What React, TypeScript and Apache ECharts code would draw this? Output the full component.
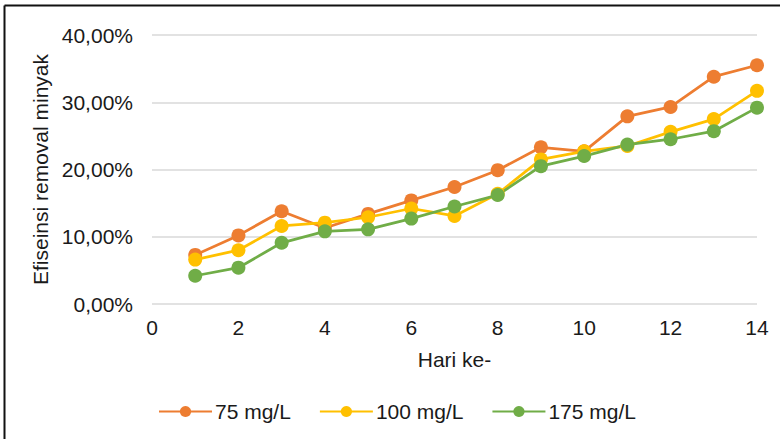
import React, { useEffect, useRef } from "react";
import * as echarts from "echarts";

const days = [1, 2, 3, 4, 5, 6, 7, 8, 9, 10, 11, 12, 13, 14];
const s75 = [7.3, 10.2, 13.8, 11.3, 13.4, 15.4, 17.4, 19.9, 23.3, 22.7, 27.9, 29.3, 33.8, 35.5];
const s100 = [6.6, 8.0, 11.6, 12.1, 12.9, 14.2, 13.1, 16.4, 21.5, 22.7, 23.5, 25.6, 27.5, 31.7];
const s175 = [4.2, 5.4, 9.1, 10.8, 11.1, 12.7, 14.5, 16.2, 20.5, 22.0, 23.7, 24.5, 25.7, 29.2];
const seriesNames = ["75 mg/L", "100 mg/L", "175 mg/L"];
const seriesColors = ["#ED7D31", "#FFC000", "#70AD47"];

const FONT = "'Liberation Sans', Arial, sans-serif";
const TEXT = "#1a1a1a";
const FS = 21;

export default function App() {
  const ref = useRef<HTMLDivElement>(null);
  useEffect(() => {
    if (!ref.current) return;
    const chart = echarts.init(ref.current, undefined, { renderer: "svg" });
    const all = [s75, s100, s175];
    chart.setOption({
      animation: false,
      backgroundColor: "#ffffff",
      textStyle: { fontFamily: FONT },
      grid: { left: 152, right: 23, top: 35, bottom: 135 },
      legend: {
        left: 153,
        top: 396,
        itemWidth: 53,
        itemHeight: 14,
        itemGap: 28,
        textStyle: { fontFamily: FONT, fontSize: FS, color: TEXT, padding: [0, 0, 0, -2] },
        data: seriesNames,
      },
      xAxis: {
        type: "value",
        min: 0,
        max: 14,
        interval: 2,
        name: "Hari ke-",
        nameLocation: "middle",
        nameGap: 45,
        nameTextStyle: { fontFamily: FONT, fontSize: FS, color: TEXT },
        axisLine: { show: false },
        axisTick: { show: false },
        splitLine: { show: false },
        axisLabel: { fontFamily: FONT, fontSize: FS, color: TEXT, margin: 13 },
      },
      yAxis: {
        type: "value",
        min: 0,
        max: 40,
        interval: 10,
        name: "Efiseinsi removal minyak",
        nameLocation: "middle",
        nameGap: 100,
        nameTextStyle: { fontFamily: FONT, fontSize: FS, color: TEXT },
        axisLine: { show: false },
        axisTick: { show: false },
        splitLine: { lineStyle: { color: "#d9d9d9", width: 1.5 } },
        axisLabel: {
          fontFamily: FONT,
          fontSize: FS,
          color: TEXT,
          margin: 19,
          formatter: (v: number) => v.toFixed(2).replace(".", ",") + "%",
        },
      },
      graphic: [
        { type: "line", shape: { x1: 4.5, y1: 5.5, x2: 780, y2: 5.5 }, style: { stroke: "#111", lineWidth: 2 } },
        { type: "line", shape: { x1: 4.5, y1: 5.5, x2: 4.5, y2: 439 }, style: { stroke: "#111", lineWidth: 2 } },
      ],
      series: all.map((arr, i) => ({
        name: seriesNames[i],
        type: "line",
        data: days.map((d, j) => [d, arr[j]]),
        symbol: "circle",
        symbolSize: 14,
        showSymbol: true,
        lineStyle: { color: seriesColors[i], width: 2.75 },
        itemStyle: { color: seriesColors[i] },
      })),
    });
    return () => chart.dispose();
  }, []);
  return (
    <div
      ref={ref}
      style={{ position: "absolute", left: 0, top: 0, width: 780, height: 439 }}
    />
  );
}
